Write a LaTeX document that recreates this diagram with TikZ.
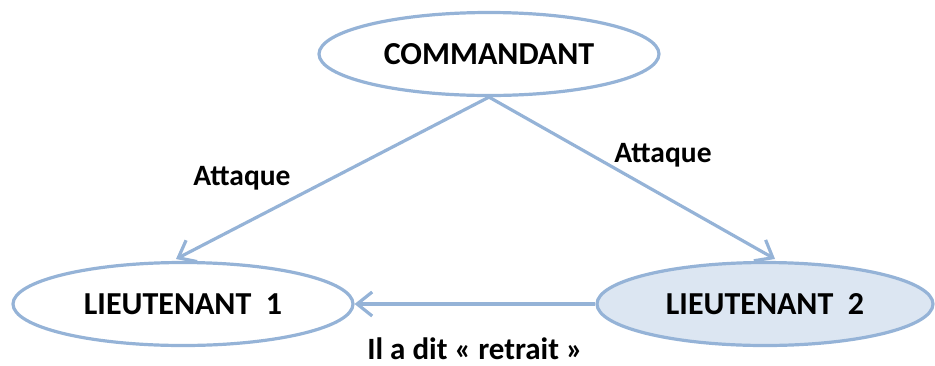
\documentclass[tikz,border=0pt]{standalone}
\usepackage{fontspec}
\setmainfont{Carlito}
\usetikzlibrary{shapes.geometric,arrows.meta}
\definecolor{edgeblue}{HTML}{95B3D7}
\definecolor{softfill}{HTML}{DCE6F2}
\begin{document}
\begin{tikzpicture}[x=1pt,y=-1pt,
  rank/.style={ellipse,draw=edgeblue,line width=3.2pt,minimum width=340pt,minimum height=83pt,
    inner sep=0pt,font=\fontsize{32}{38}\selectfont\bfseries},
  order/.style={draw=edgeblue,line width=3.2pt,-{Straight Barb[length=15pt,width=24pt,line width=3.2pt]}},
  lbl/.style={font=\fontsize{29.5}{35}\selectfont\bfseries,inner sep=0pt,anchor=base}]
  \useasboundingbox (0,0) rectangle (935,365);
  \node[rank,fill=white] (cmd) at (489,54) {COMMANDANT};
  \node[rank,fill=white] (l1) at (183,304) {LIEUTENANT\ \ 1};
  \node[rank,fill=softfill,minimum width=336pt] (l2) at (765,304) {LIEUTENANT\ \ 2};
  \coordinate (l1top) at (176,259);
  \coordinate (l2top) at (775,259);
  \draw[order] (cmd.south) -- (l1top);
  \draw[order] (cmd.south) -- (l2top);
  \draw[order] (l2.west) -- (l1.east);
  \node[lbl] (a1) at (242,185) {Attaque};
  \node[lbl] (a2) at (663,162) {Attaque};
  \node[lbl,font=\fontsize{31}{36}\selectfont\bfseries] (said) at (475,359) {Il a dit « retrait »};
\end{tikzpicture}
\end{document}
